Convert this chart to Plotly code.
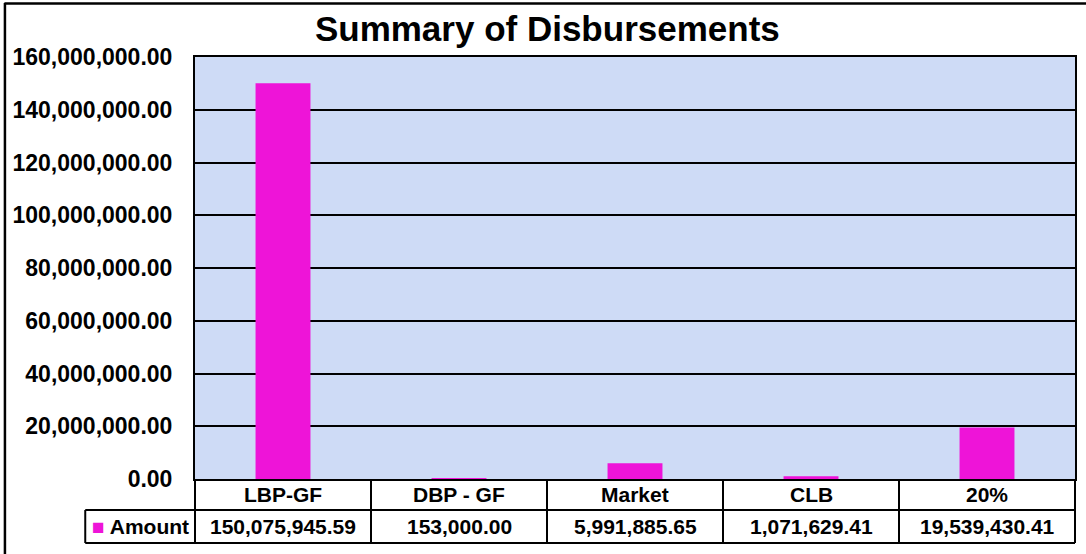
import plotly.graph_objects as go

# ---- data ----
categories = ["LBP-GF", "DBP - GF", "Market", "CLB", "20%"]
amounts = [150075945.59, 153000.00, 5991885.65, 1071629.41, 19539430.41]
series_name = "Amount"
title_text = "Summary of Disbursements"
y_tick_values = [0, 20e6, 40e6, 60e6, 80e6, 100e6, 120e6, 140e6, 160e6]

# ---- geometry (pixels) ----
W, H = 1086, 554
L, R, T, B = 195, 9, 57, 75
PW = W - L - R
PH = H - T - B
BAR_COLOR = "#EE14D8"
BG = "#CEDBF6"
FONT = "Liberation Sans, Arial, sans-serif"


def xp(px):
    return (px - L) / PW


def yp(py):
    return (H - B - py) / PH


ROW1_TOP, ROW1_BOT, ROW2_BOT = H - B, 510, 543
LEG_LEFT = 85
n = len(categories)

fig = go.Figure()
fig.add_trace(go.Bar(
    x=categories, y=amounts, name=series_name,
    marker=dict(color=BAR_COLOR, line=dict(width=0)),
    showlegend=False,
))

shapes = []
line_kw = dict(color="black", width=2)
# table horizontal lines
for yy in (ROW1_BOT, ROW2_BOT):
    shapes.append(dict(type="line", xref="paper", yref="paper",
                       x0=xp(LEG_LEFT), x1=1, y0=yp(yy), y1=yp(yy), line=line_kw))
# legend-cell left edge
shapes.append(dict(type="line", xref="paper", yref="paper",
                   x0=xp(LEG_LEFT), x1=xp(LEG_LEFT), y0=yp(ROW1_BOT), y1=yp(ROW2_BOT), line=line_kw))
# category column boundaries
for k in range(n + 1):
    shapes.append(dict(type="line", xref="paper", yref="paper",
                       x0=k / n, x1=k / n, y0=yp(ROW1_TOP), y1=yp(ROW2_BOT), line=line_kw))
# outer chart frame (top and left visible)
shapes.append(dict(type="line", xref="paper", yref="paper",
                   x0=xp(4), x1=xp(W + 5), y0=yp(3.5), y1=yp(3.5), line=dict(color="black", width=2.5)))
shapes.append(dict(type="line", xref="paper", yref="paper",
                   x0=xp(4.5), x1=xp(4.5), y0=yp(3), y1=yp(H + 5), line=dict(color="black", width=2.5)))

annotations = []
row1_mid = (ROW1_TOP + ROW1_BOT) / 2
row2_mid = (ROW1_BOT + ROW2_BOT) / 2
for c, v in zip(categories, amounts):
    annotations.append(dict(x=c, xref="x", y=yp(row1_mid), yref="paper",
                            text=c, showarrow=False, xanchor="center", yanchor="middle",
                            font=dict(family=FONT, size=21, color="black", weight="bold")))
    annotations.append(dict(x=c, xref="x", y=yp(row2_mid), yref="paper",
                            text=f"{v:,.2f}", showarrow=False, xanchor="center", yanchor="middle",
                            font=dict(family=FONT, size=21, color="black", weight="bold")))
annotations.append(dict(x=xp((LEG_LEFT + L) / 2), xref="paper", y=yp(row2_mid), yref="paper",
                        text=f"<span style='color:{BAR_COLOR};font-size:21px'>■</span> {series_name}",
                        showarrow=False, xanchor="center", yanchor="middle",
                        font=dict(family=FONT, size=21, color="black", weight="bold")))

fig.update_layout(
    width=W, height=H,
    margin=dict(l=L, r=R, t=T, b=B, pad=0),
    paper_bgcolor="white",
    plot_bgcolor=BG,
    bargap=0.688,
    title=dict(text=title_text, x=0.504, xref="container", xanchor="center",
               y=1 - 29 / H, yref="container", yanchor="middle",
               font=dict(family=FONT, size=35, color="black", weight="bold")),
    xaxis=dict(type="category", range=[-0.5, n - 0.5], showticklabels=False, ticks="",
               showgrid=False, showline=True, linecolor="black", linewidth=2, mirror=True,
               zeroline=False),
    yaxis=dict(range=[0, 160e6], tickvals=y_tick_values, tickformat=",.2f",
               showgrid=True, gridcolor="black", gridwidth=1.5,
               showline=True, linecolor="black", linewidth=2, mirror=True,
               zeroline=False, ticks="", ticklabelstandoff=16,
               tickfont=dict(family=FONT, size=23, color="black", weight="bold")),
    shapes=shapes,
    annotations=annotations,
)

fig.write_html("out.html",
               config={"displayModeBar": False},
               post_script="document.body.style.margin='0';document.body.style.overflow='hidden';")
